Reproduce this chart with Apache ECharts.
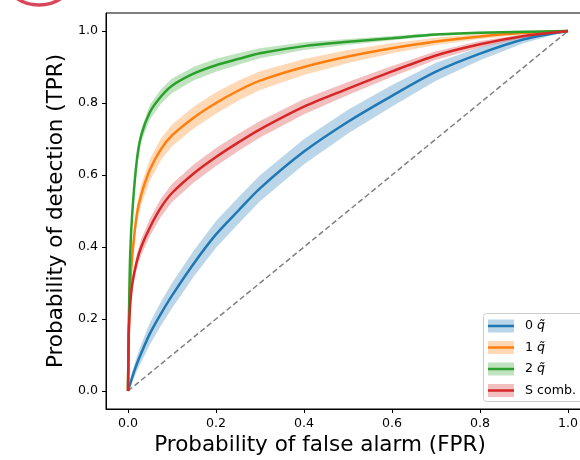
<!DOCTYPE html>
<html><head><meta charset="utf-8">
<script src="https://cdn.jsdelivr.net/npm/echarts@6/dist/echarts.min.js"></script>
<style>html,body{margin:0;padding:0;background:#fff}#c{width:580px;height:460px}</style>
</head><body><div id="c"></div>
<script>
// shared false-positive-rate grid
const fpr = [0, 0.001, 0.002, 0.005, 0.01, 0.02, 0.03, 0.05, 0.075, 0.1, 0.15, 0.2, 0.25, 0.3, 0.4, 0.5, 0.6, 0.7, 0.8, 0.9, 1.0];
// mean TPR per series
const tpr0 = [0, 0.004, 0.008, 0.02, 0.04, 0.075, 0.105, 0.16, 0.215, 0.265, 0.355, 0.435, 0.5, 0.563, 0.665, 0.748, 0.82, 0.887, 0.937, 0.977, 1];
const tpr1 = [0, 0.1, 0.17, 0.29, 0.38, 0.49, 0.545, 0.615, 0.672, 0.71, 0.76, 0.8, 0.834, 0.862, 0.9, 0.929, 0.952, 0.971, 0.985, 0.995, 1];
const tpr2 = [0, 0.12, 0.2, 0.38, 0.5, 0.64, 0.71, 0.775, 0.818, 0.848, 0.882, 0.905, 0.922, 0.938, 0.958, 0.97, 0.98, 0.99, 0.995, 0.998, 1];
const tprS = [0, 0.1, 0.17, 0.24, 0.3, 0.36, 0.4, 0.455, 0.51, 0.55, 0.605, 0.65, 0.69, 0.727, 0.79, 0.84, 0.888, 0.932, 0.963, 0.986, 1];
// half-width of the shaded band per series
const hw0 = [0, 0.002, 0.005, 0.01, 0.015, 0.02, 0.025, 0.03, 0.033, 0.035, 0.036, 0.037, 0.037, 0.036, 0.035, 0.033, 0.03, 0.025, 0.018, 0.01, 0];
const hw1 = [0, 0.005, 0.01, 0.015, 0.02, 0.025, 0.028, 0.03, 0.03, 0.03, 0.03, 0.03, 0.028, 0.026, 0.022, 0.018, 0.014, 0.01, 0.007, 0.004, 0];
const hw2 = [0, 0.005, 0.01, 0.012, 0.014, 0.016, 0.018, 0.02, 0.02, 0.02, 0.019, 0.018, 0.016, 0.014, 0.011, 0.008, 0.006, 0.004, 0.003, 0.002, 0];
const hwS = [0, 0.005, 0.01, 0.015, 0.018, 0.02, 0.022, 0.024, 0.025, 0.025, 0.025, 0.025, 0.024, 0.023, 0.021, 0.018, 0.015, 0.012, 0.009, 0.005, 0];
// chance diagonal
const chanceX = [0, 1];
const chanceY = [0, 1];
const tickValues = [0, 0.2, 0.4, 0.6, 0.8, 1.0];
const seriesKeys = ['0', '1', '2', 'S'];
const legendLabels = ['0 {i|q̃}', '1 {i|q̃}', '2 {i|q̃}', 'S comb.'];
const xTitle = 'Probability of false alarm (FPR)';
const yTitle = 'Probability of detection (TPR)';

const colors = ['#1f77b4', '#ff7f0e', '#2ca02c', '#d62728'];
const means = [tpr0, tpr1, tpr2, tprS];
const hws = [hw0, hw1, hw2, hwS];
const FONT = 'DejaVu Sans';

function bandSeries(vals, hw, color) {
  const data = fpr.map((x, i) => [x, Math.max(0, vals[i] - hw[i]), Math.min(1, vals[i] + hw[i])]);
  return {
    type: 'custom', data: data, silent: true, z: 1, clip: true,
    encode: { x: 0, y: [1, 2] },
    renderItem: function (params, api) {
      if (params.dataIndex !== 0) return null;
      const up = data.map(d => api.coord([d[0], d[2]]));
      const lo = data.slice().reverse().map(d => api.coord([d[0], d[1]]));
      return { type: 'polygon', shape: { points: up.concat(lo) }, style: { fill: color, opacity: 0.3 } };
    }
  };
}

const series = [];
series.push({
  type: 'line', data: chanceX.map((x, i) => [x, chanceY[i]]), showSymbol: false, silent: true, z: 0,
  lineStyle: { color: '#808080', width: 1.5, type: [5.5, 3] }
});
means.forEach((m, k) => series.push(bandSeries(m, hws[k], colors[k])));
means.forEach((m, k) => series.push({
  type: 'line', name: seriesKeys[k], data: fpr.map((x, i) => [x, m[i]]), showSymbol: false, silent: true,
  smooth: 0.3, z: 3,
  lineStyle: { color: colors[k], width: 2.5 }
}));

// legend drawn as graphic
const legendGraphic = [{
  type: 'rect', shape: { x: 483.5, y: 313.5, width: 110, height: 88, r: 3 },
  style: { fill: 'rgba(255,255,255,0.85)', stroke: '#cccccc', lineWidth: 1 }, z: 10
}];
const rowY = [326, 347.5, 369, 390.5];
legendLabels.forEach((lab, k) => {
  legendGraphic.push({ type: 'rect', shape: { x: 488, y: rowY[k] - 6.5, width: 26, height: 13 }, style: { fill: colors[k], opacity: 0.3 }, z: 11 });
  legendGraphic.push({ type: 'line', shape: { x1: 488, y1: rowY[k], x2: 514, y2: rowY[k] }, style: { stroke: colors[k], lineWidth: 2.5 }, z: 12 });
  legendGraphic.push({ type: 'text', x: 525, y: rowY[k], style: { text: lab, fontFamily: FONT, fontSize: 12.6, fill: '#000', verticalAlign: 'middle', rich: { i: { fontStyle: 'italic', fontFamily: FONT, fontSize: 12.6 } } }, z: 12 });
});
legendGraphic.push({ type: 'circle', shape: { cx: 39, cy: -35, r: 40 }, style: { fill: 'none', stroke: '#d9475a', lineWidth: 3.5 }, z: 20 });

const axisCommon = {
  type: 'value', min: -0.05, max: 1.05,
  axisLine: { show: true, onZero: false, lineStyle: { color: '#000', width: 1 } },
  axisTick: { show: true, customValues: tickValues, length: 4, lineStyle: { color: '#000' } },
  axisLabel: { customValues: tickValues, formatter: v => Number(v).toFixed(1), fontFamily: FONT, fontSize: 12.6, color: '#000', margin: 8 },
  splitLine: { show: false },
  nameLocation: 'middle',
  nameTextStyle: { fontFamily: FONT, fontSize: 21.5, color: '#000' }
};

const chart = echarts.init(document.getElementById('c'), null, { renderer: 'canvas' });
chart.setOption({
  animation: false,
  backgroundColor: '#fff',
  grid: { left: 106, top: 13, width: 484, height: 396, containLabel: false, outerBoundsMode: 'none', show: true, borderColor: '#000', borderWidth: 1, backgroundColor: 'transparent' },
  xAxis: Object.assign({}, axisCommon, { name: xTitle, nameGap: 20, nameTextStyle: Object.assign({}, axisCommon.nameTextStyle, { padding: [0, 56, 0, 0] }) }),
  yAxis: Object.assign({}, axisCommon, { name: yTitle, nameGap: 31 }),
  series: series,
  graphic: legendGraphic
});
</script></body></html>
